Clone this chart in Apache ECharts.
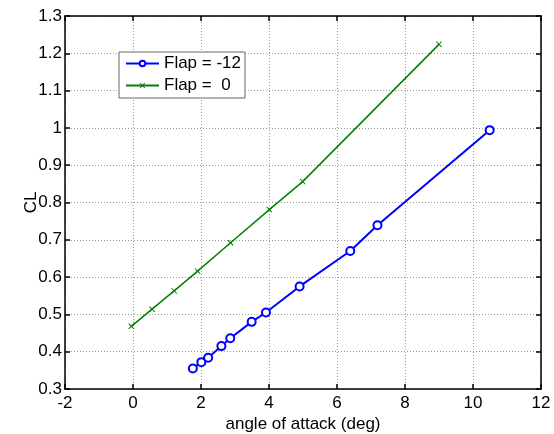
<!DOCTYPE html>
<html>
<head>
<meta charset="utf-8">
<script src="https://cdn.jsdelivr.net/npm/echarts@6/dist/echarts.min.js"></script>
<style>
  html, body { margin: 0; padding: 0; background: #fff; }
  #chart { width: 554px; height: 434px; }
</style>
</head>
<body>
<div id="chart"></div>
<script>
// Lift coefficient vs angle of attack for two flap settings
const flapNeg12Alpha = [1.76, 2.01, 2.21, 2.60, 2.86, 3.49, 3.91, 4.90, 6.39, 7.19, 10.49];
const flapNeg12CL    = [0.355, 0.372, 0.384, 0.415, 0.436, 0.480, 0.505, 0.575, 0.670, 0.739, 0.994];
const flap0Alpha     = [-0.05, 0.56, 1.21, 1.90, 2.87, 4.01, 4.99, 9.00];
const flap0CL        = [0.468, 0.514, 0.563, 0.616, 0.692, 0.781, 0.856, 1.224];
const seriesNames    = ['Flap = -12', 'Flap =  0'];

const FONT = 'Liberation Sans, Arial, sans-serif';
const FS = 17;
const crossPath = 'path://M0,1.2 L1.2,0 L5,3.8 L8.8,0 L10,1.2 L6.2,5 L10,8.8 L8.8,10 L5,6.2 L1.2,10 L0,8.8 L3.8,5 Z';

function pairs(xs, ys) { return xs.map((x, i) => [x, ys[i]]); }

const axisLineStyle = { onZero: false, lineStyle: { color: '#000', width: 1.5 } };
const tickStyle = { inside: true, length: 5, lineStyle: { color: '#000', width: 1.5 } };
const gridStyle = { show: true, lineStyle: { color: '#9a9a9a', type: [1, 2], width: 1 } };

const chart = echarts.init(document.getElementById('chart'));
chart.setOption({
  animation: false,
  backgroundColor: '#fff',
  grid: { left: 65, top: 16, right: 13, bottom: 45, containLabel: false, outerBoundsMode: 'none' },
  xAxis: [
    {
      type: 'value', min: -2, max: 12, interval: 2, position: 'bottom',
      name: 'angle of attack (deg)', nameLocation: 'middle', nameGap: 27, nameMoveOverlap: false,
      nameTextStyle: { color: '#000', fontFamily: FONT, fontSize: FS },
      axisLine: axisLineStyle, axisTick: tickStyle, splitLine: gridStyle,
      axisLabel: { color: '#000', fontFamily: FONT, fontSize: FS, margin: 6 }
    },
    {
      type: 'value', min: -2, max: 12, interval: 2, position: 'top',
      axisLine: axisLineStyle, axisTick: tickStyle, splitLine: { show: false },
      axisLabel: { show: false }
    }
  ],
  yAxis: [
    {
      type: 'value', min: 0.3, max: 1.3, interval: 0.1, position: 'left',
      name: 'CL', nameLocation: 'middle', nameGap: 25, nameRotate: 90, nameMoveOverlap: false,
      nameTextStyle: { color: '#000', fontFamily: FONT, fontSize: FS },
      axisLine: axisLineStyle, axisTick: tickStyle, splitLine: gridStyle,
      axisLabel: {
        color: '#000', fontFamily: FONT, fontSize: FS, margin: 3,
        formatter: v => (Math.round(v * 10) / 10).toString()
      }
    },
    {
      type: 'value', min: 0.3, max: 1.3, interval: 0.1, position: 'right',
      axisLine: axisLineStyle, axisTick: tickStyle, splitLine: { show: false },
      axisLabel: { show: false }
    }
  ],
  legend: {
    orient: 'vertical', left: 119, top: 52,
    backgroundColor: '#fff', borderColor: '#666', borderWidth: 1,
    padding: [3, 4, 4, 6], itemGap: 5, itemWidth: 33, itemHeight: 7,
    textStyle: { color: '#000', fontFamily: FONT, fontSize: FS },
    data: seriesNames
  },
  series: [
    {
      name: seriesNames[0], type: 'line', data: pairs(flapNeg12Alpha, flapNeg12CL),
      color: '#0000ff',
      lineStyle: { color: '#0000ff', width: 2 },
      symbol: 'emptyCircle', symbolSize: 8,
      itemStyle: { color: '#0000ff', borderColor: '#0000ff', borderWidth: 2 },
      z: 3
    },
    {
      name: seriesNames[1], type: 'line', data: pairs(flap0Alpha, flap0CL),
      color: '#008000',
      lineStyle: { color: '#008000', width: 1.5 },
      symbol: crossPath, symbolSize: 6,
      itemStyle: { color: '#008000' },
      z: 3
    }
  ]
});
</script>
</body>
</html>
